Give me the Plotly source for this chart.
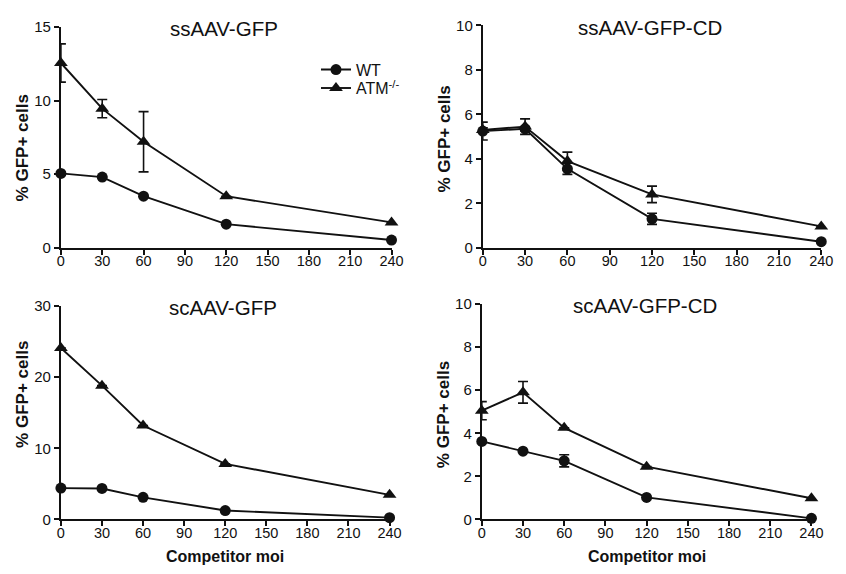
import plotly.graph_objects as go

W, H = 846, 574

# Competitor multiplicity of infection (x values shared by all panels)
moi = [0, 30, 60, 120, 240]
x_ticks = [0, 30, 60, 90, 120, 150, 180, 210, 240]

panel_titles = ["ssAAV-GFP", "ssAAV-GFP-CD", "scAAV-GFP", "scAAV-GFP-CD"]

# % GFP+ cells, mean and SEM per panel
ss_gfp_wt = [5.05, 4.8, 3.5, 1.6, 0.52]
ss_gfp_wt_err = [0, 0, 0, 0, 0]
ss_gfp_atm = [12.55, 9.45, 7.2, 3.5, 1.72]
ss_gfp_atm_err = [1.3, 0.62, 2.05, 0, 0]

ss_cd_wt = [5.25, 5.35, 3.55, 1.3, 0.27]
ss_cd_wt_err = [0.4, 0.1, 0.25, 0.25, 0]
ss_cd_atm = [5.3, 5.45, 3.9, 2.4, 0.96]
ss_cd_atm_err = [0.1, 0.35, 0.4, 0.37, 0]

sc_gfp_wt = [4.4, 4.35, 3.1, 1.25, 0.25]
sc_gfp_wt_err = [0, 0, 0, 0, 0]
sc_gfp_atm = [24.1, 18.8, 13.2, 7.8, 3.45]
sc_gfp_atm_err = [0, 0, 0, 0, 0]

sc_cd_wt = [3.62, 3.17, 2.72, 1.02, 0.05]
sc_cd_wt_err = [0, 0, 0.28, 0, 0]
sc_cd_atm = [5.05, 5.9, 4.25, 2.45, 0.98]
sc_cd_atm_err = [0.42, 0.5, 0, 0, 0]

y_max = [15, 10, 30, 10]
y_dtick = [5, 2, 10, 2]

panels = [
    (ss_gfp_wt, ss_gfp_wt_err, ss_gfp_atm, ss_gfp_atm_err),
    (ss_cd_wt, ss_cd_wt_err, ss_cd_atm, ss_cd_atm_err),
    (sc_gfp_wt, sc_gfp_wt_err, sc_gfp_atm, sc_gfp_atm_err),
    (sc_cd_wt, sc_cd_wt_err, sc_cd_atm, sc_cd_atm_err),
]

# Plot-area boxes in pixels: (left, right, top, bottom)
boxes = [
    (58, 395, 18.5, 246),
    (488, 833, 17, 246),
    (58, 393, 306, 526),
    (487, 823, 304, 526),
]
# vertical centre (px) of each y-axis title
ytitle_centres = [143, 134, 397, 418]

FONT = "Liberation Sans, Arial, sans-serif"
INK = "#111111"


def px_x(v):
    return v / W


def px_y(v):
    return 1 - v / H


fig = go.Figure()

for i, (wt, wt_err, atm, atm_err) in enumerate(panels):
    n = "" if i == 0 else str(i + 1)
    xa, ya = "x" + n, "y" + n
    err_style = dict(type="data", thickness=1.6, width=5, color=INK, visible=True)
    fig.add_trace(go.Scatter(
        x=moi, y=atm, xaxis=xa, yaxis=ya, mode="lines+markers",
        name="ATM<sup>-/-</sup>", legend="legend2", showlegend=(i == 0),
        line=dict(color=INK, width=1.9),
        marker=dict(symbol="triangle-up", size=12, color=INK),
        error_y=dict(array=atm_err, **err_style),
        cliponaxis=False,
    ))
    fig.add_trace(go.Scatter(
        x=moi, y=wt, xaxis=xa, yaxis=ya, mode="lines+markers",
        name="WT", legend="legend", showlegend=(i == 0),
        line=dict(color=INK, width=1.9),
        marker=dict(symbol="circle", size=11, color=INK),
        error_y=dict(array=wt_err, **err_style),
        cliponaxis=False,
    ))

legend_common = dict(
    xanchor="left", yanchor="top", bgcolor="rgba(0,0,0,0)",
    font=dict(size=16, family=FONT, color=INK), itemwidth=30,
)

layout = dict(
    width=W, height=H,
    margin=dict(l=0, r=0, t=0, b=0),
    paper_bgcolor="white", plot_bgcolor="white",
    font=dict(family=FONT, color=INK, size=15),
    legend=dict(x=px_x(318), y=px_y(45), **legend_common),
    legend2=dict(x=px_x(318), y=px_y(64), **legend_common),
)

annotations = []
for i, (l, r, t, b) in enumerate(boxes):
    n = "" if i == 0 else str(i + 1)
    axis_common = dict(
        showline=True, linewidth=2, linecolor=INK, mirror=False,
        ticks="outside", ticklen=5, tickwidth=2, tickcolor=INK,
        showgrid=False, zeroline=False,
    )
    layout["xaxis" + n] = dict(
        domain=[px_x(l), px_x(r)], range=[0, 240], anchor="y" + n,
        tickvals=x_ticks, ticklabelstandoff=-6,
        tickfont=dict(family=FONT, size=14.5, color=INK), **axis_common,
    )
    layout["yaxis" + n] = dict(
        domain=[px_y(b), px_y(t)], range=[0, y_max[i]], anchor="x" + n,
        dtick=y_dtick[i], tick0=0,
        tickfont=dict(family=FONT, size=15, color=INK), **axis_common,
    )
    # panel title
    annotations.append(dict(
        text=panel_titles[i], xref="paper", yref="paper",
        x=px_x((l + r) / 2 - 2), y=px_y(t + 2), xanchor="center", yanchor="middle",
        showarrow=False, font=dict(family=FONT, size=20.5, color=INK),
    ))
    # y-axis title
    annotations.append(dict(
        text="<b>% GFP+ cells</b>", xref="paper", yref="paper",
        x=px_x(l - 39), y=px_y(ytitle_centres[i]), xanchor="center", yanchor="middle",
        textangle=-90, showarrow=False, font=dict(family=FONT, size=17, color=INK),
    ))
    if i >= 2:
        annotations.append(dict(
            text="<b>Competitor moi</b>", xref="paper", yref="paper",
            x=px_x((l + r) / 2), y=px_y(564), xanchor="center", yanchor="middle",
            showarrow=False, font=dict(family=FONT, size=16, color=INK),
        ))

layout["annotations"] = annotations
fig.update_layout(**layout)

fig.write_html("out.html")
